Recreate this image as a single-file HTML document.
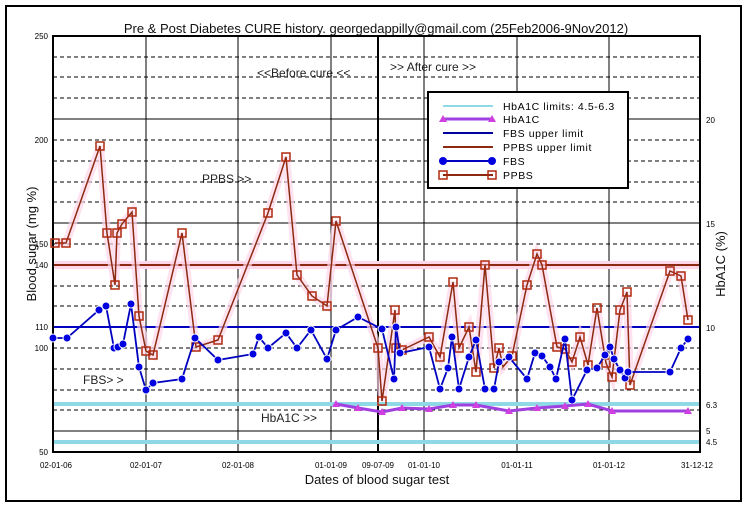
<!DOCTYPE html>
<html><head><meta charset="utf-8"><style>
html,body{margin:0;padding:0;background:#fff;}
svg{display:block;font-family:"Liberation Sans",sans-serif;}
</style></head><body>
<svg width="747" height="508" viewBox="0 0 747 508" xmlns="http://www.w3.org/2000/svg">
<rect x="0" y="0" width="747" height="508" fill="#fff"/>
<rect x="6" y="6" width="735" height="495" fill="none" stroke="#000" stroke-width="2"/>
<text x="376" y="33" font-size="13" text-anchor="middle" fill="#111">Pre &amp; Post Diabetes CURE history. georgedappilly@gmail.com (25Feb2006-9Nov2012)</text>
<!-- dashed grid -->
<g stroke="#000" stroke-width="1" stroke-dasharray="4,3">
<line x1="53" x2="700" y1="57" y2="57"/><line x1="53" x2="700" y1="77" y2="77"/><line x1="53" x2="700" y1="98" y2="98"/>
<line x1="53" x2="700" y1="140" y2="140"/><line x1="53" x2="700" y1="161" y2="161"/><line x1="53" x2="700" y1="182" y2="182"/><line x1="53" x2="700" y1="202" y2="202"/>
<line x1="53" x2="700" y1="244" y2="244"/><line x1="53" x2="700" y1="286" y2="286"/><line x1="53" x2="700" y1="306" y2="306"/>
<line x1="53" x2="700" y1="348" y2="348"/><line x1="53" x2="700" y1="369" y2="369"/><line x1="53" x2="700" y1="390" y2="390"/><line x1="53" x2="700" y1="410" y2="410"/>
</g>
<g stroke="#000" stroke-width="1">
<line x1="53" x2="700" y1="119" y2="119"/><line x1="53" x2="700" y1="223" y2="223"/><line x1="53" x2="700" y1="431" y2="431"/>
<line x1="146" x2="146" y1="36" y2="452"/><line x1="238" x2="238" y1="36" y2="452"/><line x1="331" x2="331" y1="36" y2="452"/>
<line x1="424" x2="424" y1="36" y2="452"/><line x1="517" x2="517" y1="36" y2="452"/><line x1="609" x2="609" y1="36" y2="452"/>
</g>
<line x1="378" x2="378" y1="36" y2="452" stroke="#000" stroke-width="2"/>
<!-- limit lines -->
<line x1="53" x2="700" y1="265" y2="265" stroke="#ffd6ea" stroke-width="8"/>
<line x1="53" x2="700" y1="265" y2="265" stroke="#8b2a10" stroke-width="2"/>
<line x1="53" x2="700" y1="327" y2="327" stroke="#0000c0" stroke-width="2"/>
<line x1="53" x2="700" y1="404" y2="404" stroke="#8fd8e6" stroke-width="4"/>
<line x1="53" x2="700" y1="442" y2="442" stroke="#8fd8e6" stroke-width="4"/>
<rect x="53" y="36" width="647" height="416" fill="none" stroke="#000" stroke-width="2"/>
<!-- PPBS -->
<polyline fill="none" stroke="#ffd6ea" stroke-width="8" opacity="0.7" points="55,243 66,243 100,146 107,233 115,285 117,233 122,224 132,212 139,316 146,351 153,355 182,233 196,347 218,340 268,213 286,157 297,275 312,296 327,306 336,221 378,348 382,401 395,310 396,348 398,349 402,350 429,337 440,357 453,282 459,348 469,327 476,372 485,265 494,368 499,348 503,367 512,356 527,285 537,254 542,265 557,347 565,349 572,362 580,337 588,365 597,308 606,363 612,377 620,310 627,292 630,385 670,271 681,276 688,320"/>
<polyline fill="none" stroke="#8b2a10" stroke-width="1.5" points="55,243 66,243 100,146 107,233 115,285 117,233 122,224 132,212 139,316 146,351 153,355 182,233 196,347 218,340 268,213 286,157 297,275 312,296 327,306 336,221 378,348 382,401 395,310 396,348 398,349 402,350 429,337 440,357 453,282 459,348 469,327 476,372 485,265 494,368 499,348 503,367 512,356 527,285 537,254 542,265 557,347 565,349 572,362 580,337 588,365 597,308 606,363 612,377 620,310 627,292 630,385 670,271 681,276 688,320"/>
<g fill="none" stroke="#b02a10" stroke-width="1.5" id="sq">
<rect x="51" y="239" width="8" height="8"/><rect x="62" y="239" width="8" height="8"/><rect x="96" y="142" width="8" height="8"/><rect x="103" y="229" width="8" height="8"/><rect x="111" y="281" width="8" height="8"/><rect x="113" y="229" width="8" height="8"/><rect x="118" y="220" width="8" height="8"/><rect x="128" y="208" width="8" height="8"/><rect x="135" y="312" width="8" height="8"/><rect x="142" y="347" width="8" height="8"/><rect x="149" y="351" width="8" height="8"/><rect x="178" y="229" width="8" height="8"/><rect x="192" y="343" width="8" height="8"/><rect x="214" y="336" width="8" height="8"/><rect x="264" y="209" width="8" height="8"/><rect x="282" y="153" width="8" height="8"/><rect x="293" y="271" width="8" height="8"/><rect x="308" y="292" width="8" height="8"/><rect x="323" y="302" width="8" height="8"/><rect x="332" y="217" width="8" height="8"/><rect x="374" y="344" width="8" height="8"/><rect x="378" y="397" width="8" height="8"/><rect x="391" y="306" width="8" height="8"/><rect x="392" y="344" width="8" height="8"/><rect x="398" y="346" width="8" height="8"/><rect x="425" y="333" width="8" height="8"/><rect x="436" y="353" width="8" height="8"/><rect x="449" y="278" width="8" height="8"/><rect x="455" y="344" width="8" height="8"/><rect x="465" y="323" width="8" height="8"/><rect x="472" y="368" width="8" height="8"/><rect x="481" y="261" width="8" height="8"/><rect x="490" y="364" width="8" height="8"/><rect x="495" y="344" width="8" height="8"/><rect x="508" y="352" width="8" height="8"/><rect x="523" y="281" width="8" height="8"/><rect x="533" y="250" width="8" height="8"/><rect x="538" y="261" width="8" height="8"/><rect x="553" y="343" width="8" height="8"/><rect x="561" y="345" width="8" height="8"/><rect x="568" y="358" width="8" height="8"/><rect x="576" y="333" width="8" height="8"/><rect x="584" y="361" width="8" height="8"/><rect x="593" y="304" width="8" height="8"/><rect x="602" y="359" width="8" height="8"/><rect x="608" y="373" width="8" height="8"/><rect x="616" y="306" width="8" height="8"/><rect x="623" y="288" width="8" height="8"/><rect x="626" y="381" width="8" height="8"/><rect x="666" y="267" width="8" height="8"/><rect x="677" y="272" width="8" height="8"/><rect x="684" y="316" width="8" height="8"/>
</g>
<!-- FBS -->
<polyline fill="none" stroke="#0000c0" stroke-width="1.8" points="53,338 67,338 99,310 106,306 114,348 118,347 123,344 131,304 139,367 146,390 153,383 182,379 195,338 218,360 253,354 259,337 268,348 286,333 297,348 311,330 327,359 336,330 358,317 378,327 382,329 394,379 396,327 400,353 429,347 440,389 448,368 452,337 459,389 469,357 476,340 485,389 494,389 499,362 509,357 527,379 535,353 542,356 550,367 556,379 565,339 572,400 587,370 597,368 605,355 610,347 614,359 620,370 625,378 628,372 670,372 681,348 688,339"/>
<g fill="#0000e0" stroke="#fff" stroke-width="1">
<circle cx="53" cy="338" r="4"/><circle cx="67" cy="338" r="4"/><circle cx="99" cy="310" r="4"/><circle cx="106" cy="306" r="4"/><circle cx="114" cy="348" r="4"/><circle cx="118" cy="347" r="4"/><circle cx="123" cy="344" r="4"/><circle cx="131" cy="304" r="4"/><circle cx="139" cy="367" r="4"/><circle cx="146" cy="390" r="4"/><circle cx="153" cy="383" r="4"/><circle cx="182" cy="379" r="4"/><circle cx="195" cy="338" r="4"/><circle cx="218" cy="360" r="4"/><circle cx="253" cy="354" r="4"/><circle cx="259" cy="337" r="4"/><circle cx="268" cy="348" r="4"/><circle cx="286" cy="333" r="4"/><circle cx="297" cy="348" r="4"/><circle cx="311" cy="330" r="4"/><circle cx="327" cy="359" r="4"/><circle cx="336" cy="330" r="4"/><circle cx="358" cy="317" r="4"/><circle cx="382" cy="329" r="4"/><circle cx="394" cy="379" r="4"/><circle cx="396" cy="327" r="4"/><circle cx="400" cy="353" r="4"/><circle cx="429" cy="347" r="4"/><circle cx="440" cy="389" r="4"/><circle cx="448" cy="368" r="4"/><circle cx="452" cy="337" r="4"/><circle cx="459" cy="389" r="4"/><circle cx="469" cy="357" r="4"/><circle cx="476" cy="340" r="4"/><circle cx="485" cy="389" r="4"/><circle cx="494" cy="389" r="4"/><circle cx="499" cy="362" r="4"/><circle cx="509" cy="357" r="4"/><circle cx="527" cy="379" r="4"/><circle cx="535" cy="353" r="4"/><circle cx="542" cy="356" r="4"/><circle cx="550" cy="367" r="4"/><circle cx="556" cy="379" r="4"/><circle cx="565" cy="339" r="4"/><circle cx="572" cy="400" r="4"/><circle cx="587" cy="370" r="4"/><circle cx="597" cy="368" r="4"/><circle cx="605" cy="355" r="4"/><circle cx="610" cy="347" r="4"/><circle cx="614" cy="359" r="4"/><circle cx="620" cy="370" r="4"/><circle cx="625" cy="378" r="4"/><circle cx="628" cy="372" r="4"/><circle cx="670" cy="372" r="4"/><circle cx="681" cy="348" r="4"/><circle cx="688" cy="339" r="4"/>
</g>
<!-- HbA1C -->
<polyline fill="none" stroke="#a040e0" stroke-width="3" points="336,404 358,408 382,412 402,408 429,409 453,405 476,405 509,411 537,408 565,406 588,404 612,411 688,411"/>
<g fill="#d040e0">
<path d="M336,400 l4,7 h-8z"/><path d="M358,404 l4,7 h-8z"/><path d="M382,408 l4,7 h-8z"/><path d="M402,404 l4,7 h-8z"/><path d="M429,405 l4,7 h-8z"/><path d="M453,401 l4,7 h-8z"/><path d="M476,401 l4,7 h-8z"/><path d="M509,407 l4,7 h-8z"/><path d="M537,404 l4,7 h-8z"/><path d="M565,402 l4,7 h-8z"/><path d="M588,400 l4,7 h-8z"/><path d="M612,407 l4,7 h-8z"/><path d="M688,407 l4,7 h-8z"/>
</g>
<!-- annotations -->
<g font-size="12" fill="#222">
<text x="257" y="77">&lt;&lt;Before cure &lt;&lt;</text>
<text x="390" y="71">&gt;&gt; After cure &gt;&gt;</text>
<text x="202" y="183">PPBS &gt;&gt;</text>
<text x="83" y="384">FBS&gt; &gt;</text>
<text x="261" y="422">HbA1C &gt;&gt;</text>
</g>
<!-- legend -->
<rect x="428" y="92" width="200" height="96" fill="#fff" stroke="#000" stroke-width="2"/>
<g stroke-width="2">
<line x1="443" x2="493" y1="106" y2="106" stroke="#8fd8e6"/>
<line x1="443" x2="493" y1="119" y2="119" stroke="#a040e0" stroke-width="3"/>
<line x1="443" x2="493" y1="133" y2="133" stroke="#0000a0"/>
<line x1="443" x2="493" y1="147" y2="147" stroke="#8b2a10"/>
<line x1="443" x2="493" y1="161" y2="161" stroke="#0000c0"/>
<line x1="443" x2="493" y1="175" y2="175" stroke="#8b2a10"/>
</g>
<path d="M443,115 l4,7 h-8z M492,115 l4,7 h-8z" fill="#d040e0"/>
<circle cx="443" cy="161" r="4" fill="#0000e0"/><circle cx="492" cy="161" r="4" fill="#0000e0"/>
<rect x="439" y="171" width="8" height="8" fill="none" stroke="#b02a10" stroke-width="1.5"/><rect x="488" y="171" width="8" height="8" fill="none" stroke="#b02a10" stroke-width="1.5"/>
<g font-size="10.5" fill="#000" letter-spacing="0.6">
<text x="503" y="110">HbA1C  limits: 4.5-6.3</text>
<text x="503" y="123">HbA1C</text>
<text x="503" y="137">FBS upper limit</text>
<text x="503" y="151">PPBS upper limit</text>
<text x="503" y="165">FBS</text>
<text x="503" y="179">PPBS</text>
</g>
<!-- axes labels -->
<g font-size="8" fill="#000" text-anchor="end">
<text x="48" y="39">250</text><text x="48" y="143">200</text><text x="48" y="247">150</text><text x="48" y="268">140</text>
<text x="48" y="330">110</text><text x="48" y="351">100</text><text x="48" y="455">50</text>
</g>
<g font-size="8" fill="#000">
<text x="706" y="123">20</text><text x="706" y="227">15</text><text x="706" y="331">10</text><text x="706" y="408">6.3</text><text x="706" y="434">5</text><text x="706" y="445">4.5</text>
</g>
<g font-size="8" fill="#000" text-anchor="middle">
<text x="56" y="468">02-01-06</text><text x="146" y="468">02-01-07</text><text x="238" y="468">02-01-08</text><text x="331" y="468">01-01-09</text><text x="378" y="468">09-07-09</text><text x="424" y="468">01-01-10</text><text x="517" y="468">01-01-11</text><text x="609" y="468">01-01-12</text><text x="697" y="468">31-12-12</text>
</g>
<text x="377" y="484" font-size="13" text-anchor="middle" fill="#111">Dates of blood sugar test</text>
<text transform="translate(36,244) rotate(-90)" font-size="13" text-anchor="middle" fill="#111">Blood sugar (mg %)</text>
<text transform="translate(725,264) rotate(-90)" font-size="13" text-anchor="middle" fill="#111">HbA1C (%)</text>
</svg>
</body></html>
